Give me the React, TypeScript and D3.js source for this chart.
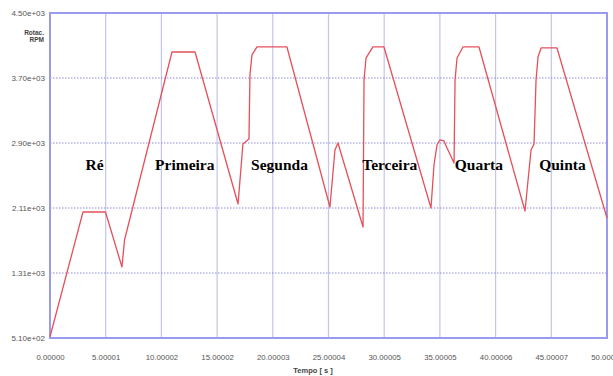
import React, { useRef, useEffect } from 'react';
import * as d3 from 'd3';

// tempo [s] and rotacao [RPM]
const tempo = [0, 2.96, 4.98, 6.46, 6.69, 10.95, 13.02, 16.88, 17.32, 17.86, 17.95, 18.13, 18.58, 21.27,
  25.13, 25.58, 25.85, 28.1, 28.19, 28.37, 28.99, 29.98, 34.2, 34.47, 34.74, 35.0, 35.37, 35.64, 36.27,
  36.36, 36.54, 37.07, 38.51, 42.64, 43.18, 43.45, 43.63, 43.81, 44.08, 45.51, 50.0];
const rotacao = [525, 2057, 2057, 1382, 1713, 4021, 4021, 2155, 2892, 2953, 3740, 3985, 4083, 4083,
  2118, 2818, 2904, 1873, 3678, 3948, 4083, 4083, 2106, 2634, 2880, 2941, 2929, 2843, 2659,
  3678, 3948, 4083, 4083, 2069, 2818, 2892, 3678, 3960, 4071, 4071, 1983];

const xTicks = [0, 5.00001, 10.00002, 15.00002, 20.00003, 25.00004, 30.00005, 35.00005, 40.00006, 45.00007, 50.00008];
const xTickLabels = ['0.00000', '5.00001', '10.00002', '15.00002', '20.00003', '25.00004', '30.00005', '35.00005', '40.00006', '45.00007', '50.00008'];
const yTicks = [510, 1308, 2106, 2904, 3702, 4500];
const yTickLabels = ['5.10e+02', '1.31e+03', '2.11e+03', '2.90e+03', '3.70e+03', '4.50e+03'];

const marchas = ['Ré', 'Primeira', 'Segunda', 'Terceira', 'Quarta', 'Quinta'];
const marchaTempo = [4.0, 12.1, 20.6, 30.5, 38.5, 46.0];
const marchaRpm = [2570, 2570, 2570, 2570, 2570, 2570];

const W = 613, H = 376;

const App = () => {
  const svgRef = useRef<SVGSVGElement>(null);

  useEffect(() => {
    const svg = d3.select(svgRef.current);
    svg.selectAll('*').remove();

    const margin = { top: 13, right: 6, bottom: 38, left: 50 };
    const x = d3.scaleLinear().domain([0, 50.00008]).range([margin.left, W - margin.right]);
    const y = d3.scaleLinear().domain([510, 4500]).range([H - margin.bottom, margin.top]);

    svg.append('rect').attr('width', W).attr('height', H).attr('fill', '#fff');

    // grid
    svg.append('g').selectAll('line').data(xTicks.slice(1, -1)).join('line')
      .attr('x1', d => x(d)).attr('x2', d => x(d))
      .attr('y1', margin.top).attr('y2', H - margin.bottom)
      .attr('stroke', '#c4c4ec').attr('stroke-width', 1.2);
    svg.append('g').selectAll('line').data(yTicks.slice(1, -1)).join('line')
      .attr('x1', margin.left).attr('x2', W - margin.right)
      .attr('y1', d => y(d)).attr('y2', d => y(d))
      .attr('stroke', '#8c8cd8').attr('stroke-width', 1).attr('stroke-dasharray', '1.5,1.5');

    // axis labels
    const xAxis = svg.append('g')
      .attr('transform', `translate(0,${H - margin.bottom})`)
      .call(d3.axisBottom(x).tickValues(xTicks).tickSize(0).tickPadding(16)
        .tickFormat((d, i) => xTickLabels[i]));
    xAxis.select('.domain').remove();
    xAxis.selectAll('text').attr('fill', '#555').attr('font-size', 7.8)
      .attr('font-family', 'Liberation Sans, Arial, sans-serif');

    const yAxis = svg.append('g')
      .attr('transform', `translate(${margin.left - 1},0)`)
      .call(d3.axisLeft(y).tickValues(yTicks).tickSize(0).tickPadding(4)
        .tickFormat((d, i) => yTickLabels[i]));
    yAxis.select('.domain').remove();
    yAxis.selectAll('text').attr('fill', '#555').attr('font-size', 8)
      .attr('font-family', 'Liberation Sans, Arial, sans-serif');

    // frame
    svg.append('rect')
      .attr('x', margin.left).attr('y', margin.top)
      .attr('width', W - margin.right - margin.left).attr('height', H - margin.bottom - margin.top)
      .attr('fill', 'none').attr('stroke', '#9a9aee').attr('stroke-width', 2);

    // curve
    const line = d3.line<number>().x((d, i) => x(tempo[i])).y(d => y(d));
    svg.append('path').datum(rotacao)
      .attr('d', line)
      .attr('fill', 'none').attr('stroke', '#e5505a').attr('stroke-width', 1.3)
      .attr('stroke-linejoin', 'round');

    // gear labels
    svg.append('g').selectAll('text').data(marchas).join('text')
      .attr('x', (d, i) => x(marchaTempo[i])).attr('y', (d, i) => y(marchaRpm[i]))
      .attr('text-anchor', 'middle')
      .attr('font-family', 'Liberation Serif, serif').attr('font-weight', 'bold').attr('font-size', 15.5)
      .attr('fill', '#000')
      .text(d => d);

    // axis titles
    svg.append('text').attr('x', 44).attr('y', 35).attr('text-anchor', 'end')
      .attr('font-family', 'Liberation Sans, Arial, sans-serif').attr('font-size', 6.5).attr('font-weight', 'bold')
      .attr('fill', '#444').text('Rotac.');
    svg.append('text').attr('x', 44).attr('y', 42).attr('text-anchor', 'end')
      .attr('font-family', 'Liberation Sans, Arial, sans-serif').attr('font-size', 6.5).attr('font-weight', 'bold')
      .attr('fill', '#444').text('RPM');
    svg.append('text').attr('x', 313).attr('y', 373).attr('text-anchor', 'middle')
      .attr('font-family', 'Liberation Sans, Arial, sans-serif').attr('font-size', 7.5).attr('font-weight', 'bold')
      .attr('fill', '#444').text('Tempo [ s ]');
  }, []);

  return <svg ref={svgRef} width={W} height={H}
    style={{ position: 'absolute', left: 0, top: 0, display: 'block' }} />;
};

export default App;
